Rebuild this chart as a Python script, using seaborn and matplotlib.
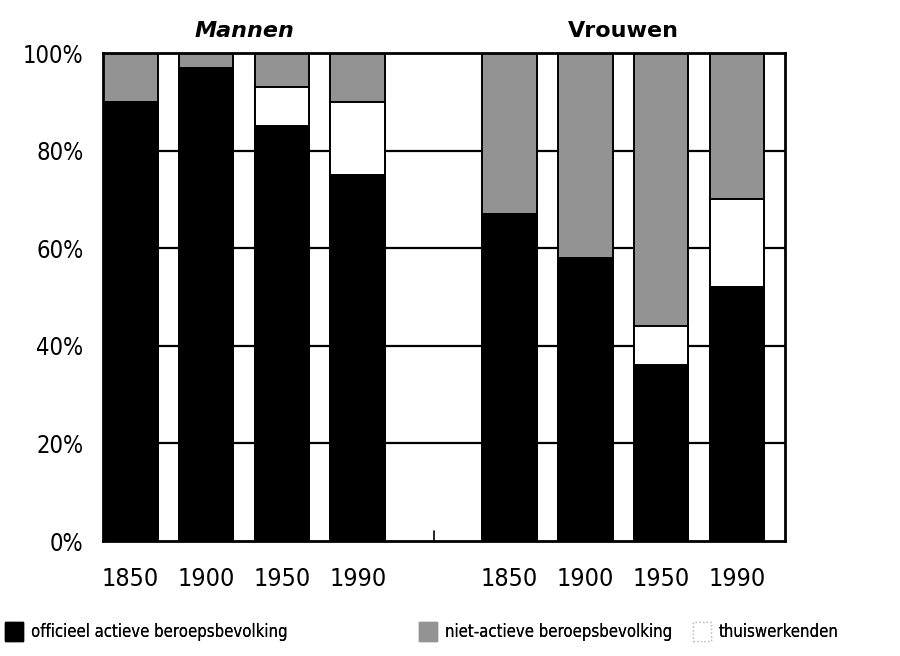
#!/usr/bin/env python
# coding: utf-8

import pandas as pd
import matplotlib.pyplot as plt
import seaborn as sns
from matplotlib.patches import Patch
from matplotlib.transforms import blended_transform_factory

# Data (percent of population), slot 4 is the empty gap between the groups
positions = [0, 1, 2, 3, 5, 6, 7, 8]
year_labels = ['1850', '1900', '1950', '1990', '1850', '1900', '1950', '1990']
groups = ['Mannen', 'Mannen', 'Mannen', 'Mannen', 'Vrouwen', 'Vrouwen', 'Vrouwen', 'Vrouwen']
officieel = [90, 97, 85, 75, 67, 58, 36, 52]
thuiswerk = [0, 0, 8, 15, 0, 0, 8, 18]
niet_actief = [10, 3, 7, 10, 33, 42, 56, 30]

BLACK = '#000000'
GREY = '#939393'
WHITE = '#ffffff'


def build_frame():
    df = pd.DataFrame({
        'pos': positions,
        'group': groups,
        'officieel': officieel,
        'thuis': thuiswerk,
        'niet': niet_actief,
    })
    # cumulative tops for stacking (drawn from the top layer down)
    df['top_thuis'] = df['officieel'] + df['thuis']
    df['top_niet'] = df['top_thuis'] + df['niet']
    return df


def draw(df):
    sns.set_theme(style='white')
    plt.rcParams['font.family'] = ['DejaVu Sans']
    plt.rcParams['font.stretch'] = 'condensed'
    plt.rcParams['text.color'] = 'black'
    plt.rcParams['xtick.color'] = 'black'
    plt.rcParams['ytick.color'] = 'black'

    fig = plt.figure(figsize=(9, 6.56), dpi=100)
    ax = fig.add_axes([0.1144, 0.1753, 0.7576, 0.7439])

    # grid lines behind the bars
    for y in [20, 40, 60, 80]:
        ax.axhline(y, color='black', lw=1.6, zorder=0)

    bar_kw = dict(native_scale=True, width=0.72, edgecolor='black',
                  linewidth=1.4, ax=ax, zorder=2)
    sns.barplot(data=df, x='pos', y='top_niet', color=GREY, **bar_kw)
    sns.barplot(data=df, x='pos', y='top_thuis', color=WHITE, **bar_kw)
    sns.barplot(data=df, x='pos', y='officieel', color=BLACK, **bar_kw)
    for p in ax.patches:
        p.set_facecolor(p.get_facecolor()[:3] + (1.0,))

    ax.set_xlim(-0.36, 8.63)
    ax.set_ylim(0, 100)
    ax.set_xticks(positions)
    ax.set_xticklabels(year_labels, fontsize=18, stretch='condensed')
    ax.set_yticks([0, 20, 40, 60, 80, 100])
    ax.set_yticklabels(['0%', '20%', '40%', '60%', '80%', '100%'],
                       fontsize=17, stretch='condensed')
    ax.tick_params(axis='x', length=0, pad=19)
    ax.tick_params(axis='y', length=0, pad=14)
    ax.set_xlabel('')
    ax.set_ylabel('')
    for s in ax.spines.values():
        s.set_color('black')
        s.set_linewidth(2)

    # small tick at the empty slot
    ax.plot([4, 4], [0, 2], color='black', lw=1.2, zorder=3)

    # group titles
    trans = blended_transform_factory(ax.transData, ax.transAxes)
    ax.text(1.5, 1.045, 'Mannen', transform=trans, ha='center', va='center',
            fontsize=16, fontweight='bold', fontstyle='italic',
            stretch='normal')
    ax.text(6.5, 1.045, 'Vrouwen', transform=trans, ha='center', va='center',
            fontsize=16, fontweight='bold', stretch='normal')

    # legend: three separate entries so each starts where the original does
    entries = [
        (Patch(facecolor=BLACK, edgecolor=BLACK), 'officieel actieve beroepsbevolking', -0.011),
        (Patch(facecolor=GREY, edgecolor=GREY), 'niet-actieve beroepsbevolking', 0.449),
        (Patch(facecolor=WHITE, edgecolor='#bbbbbb', linestyle=':'), 'thuiswerkenden', 0.753),
    ]
    for handle, label, x0 in entries:
        leg = fig.legend(handles=[handle], labels=[label], loc='lower left',
                         bbox_to_anchor=(x0, 0.0), frameon=False,
                         handlelength=1.1, handleheight=1.4, handletextpad=0.45,
                         prop={'size': 12, 'stretch': 'condensed'})
        fig.add_artist(leg)

    fig.savefig('out.png', dpi=100)


def main():
    df = build_frame()
    draw(df)


if __name__ == '__main__':
    main()
